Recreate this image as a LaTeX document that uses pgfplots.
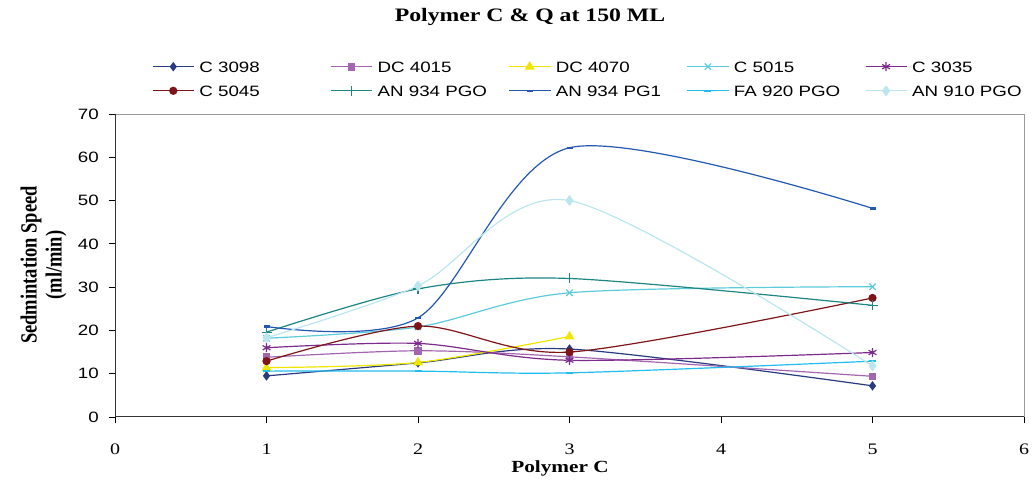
\documentclass[border=0pt]{standalone}
\usepackage{fontspec}
\usepackage{graphicx}
\usepackage{pgfplots}
\pgfplotsset{compat=1.18}
\setmainfont{Liberation Serif}[FakeStretch=1.25]
\newfontfamily\arialfont{Liberation Sans}[FakeStretch=1.25]
\newfontfamily\timesplain{Liberation Serif}

\definecolor{cA}{HTML}{283A80}
\definecolor{cB}{HTML}{A465B0}
\definecolor{cC}{HTML}{EEE600}
\definecolor{cD}{HTML}{5CCBDB}
\definecolor{cE}{HTML}{7C2A8C}
\definecolor{cF}{HTML}{7E1417}
\definecolor{cG}{HTML}{1C8582}
\definecolor{cH}{HTML}{2358B0}
\definecolor{cI}{HTML}{20BDF0}
\definecolor{cJ}{HTML}{BCE6EE}

\newcommand{\legtxt}[1]{\makebox[131pt][l]{\strut #1}}

\begin{document}
\begin{tikzpicture}
\useasboundingbox (0,0) rectangle (1034pt,482pt);
\begin{axis}[
  at={(115pt,65pt)}, anchor=south west,
  scale only axis, width=909pt, height=303pt,
  xmin=0, xmax=6, ymin=0, ymax=70,
  xtick={0,1,2,3,4,5,6}, ytick={0,10,20,30,40,50,60,70},
  xtick pos=bottom, ytick pos=left,
  tick align=outside, major tick length=6pt,
  tick style={black, line width=0.8pt},
  axis line style={draw=none},
  /pgf/number format/assume math mode=true,
  xticklabel style={font=\fontsize{16}{18}\selectfont, inner sep=0pt, anchor=north, yshift=-21pt},
  yticklabel style={font=\arialfont\fontsize{15}{18}\selectfont, inner sep=0pt, anchor=east, xshift=-10pt},
  clip=false,
  every axis plot/.append style={line width=1.2pt, smooth},
  legend columns=5,
  legend style={draw=none, fill=none, at={(axis description cs:0.0407,1.18)}, anchor=north west,
    font=\arialfont\fontsize{15}{18}\selectfont, inner sep=0pt,
    nodes={inner sep=0pt},
    row sep=10pt,
    /tikz/every odd column/.append style={column sep=5pt},
    cells={anchor=west}},
  legend image code/.code={\draw[mark repeat=2,mark phase=2,#1] plot coordinates {(0pt,0pt) (20.5pt,0pt) (41pt,0pt)};},
]
\addplot[color=cA, mark=diamond*, mark size=3.8pt, mark options={solid}] coordinates {(1,9.5) (2,12.5) (3,15.7) (5,7.2)};
\addlegendentry{\legtxt{C 3098}}
\addplot[color=cB, mark=square*, mark size=3.2pt] coordinates {(1,13.8) (2,15.3) (3,13.9) (5,9.4)};
\addlegendentry{\legtxt{DC 4015}}
\addplot[color=cC, mark=triangle*, mark size=4.5pt] coordinates {(1,11.4) (2,12.6) (3,18.6)};
\addlegendentry{\legtxt{DC 4070}}
\addplot[color=cD, mark=x, mark size=4.5pt, mark options={line width=1.2pt}] coordinates {(1,18.2) (2,20.8) (3,28.7) (5,30.1)};
\addlegendentry{\legtxt{C 5015}}
\addplot[color=cE, mark=asterisk, mark size=4.5pt, mark options={line width=1.2pt}] coordinates {(1,16.0) (2,17.0) (3,13.1) (5,14.9)};
\addlegendentry{\legtxt{C 3035}}
\addplot[color=cF, mark=*, mark size=3.5pt] coordinates {(1,12.9) (2,21.0) (3,15.0) (5,27.5)};
\addlegendentry{\legtxt{C 5045}}
\addplot[color=cG, mark=+, mark size=5pt, mark options={line width=1.2pt}] coordinates {(1,19.6) (2,29.6) (3,32.0) (5,25.8)};
\addlegendentry{\legtxt{AN 934 PGO}}
\addplot[color=cH, mark=-, mark size=3pt, mark options={line width=2.5pt}] coordinates {(1,20.9) (2,22.9) (3,62.2) (5,48.2)};
\addlegendentry{\legtxt{AN 934 PG1}}
\addplot[color=cI, mark=-, mark size=3.5pt, mark options={line width=2.5pt}] coordinates {(1,10.6) (2,10.6) (3,10.2) (5,12.9)};
\addlegendentry{\legtxt{FA 920 PGO}}
\addplot[color=cJ, mark=diamond*, mark size=4.5pt] coordinates {(1,18.3) (2,30.3) (3,50.0) (5,11.8)};
\addlegendentry{\legtxt{AN 910 PGO}}
\draw[gray!80, line width=1pt] (rel axis cs:0,0) rectangle (rel axis cs:1,1);
\draw[black!80, line width=1pt] (rel axis cs:0,1) -- (rel axis cs:0,0) -- (rel axis cs:1,0);
\end{axis}
\node[font=\bfseries\fontsize{19}{22}\selectfont] at (530pt,465pt) {Polymer C \& Q at 150 ML};
\node[font=\bfseries\fontsize{17}{20}\selectfont] at (560pt,14pt) {Polymer C};
\node[rotate=90] at (44pt,217pt) {\scalebox{1}[1.25]{\timesplain\bfseries\fontsize{18.5}{20}\selectfont\begin{tabular}{@{}c@{}}Sedmintation Speed\\(ml/min)\end{tabular}}};
\end{tikzpicture}
\end{document}
